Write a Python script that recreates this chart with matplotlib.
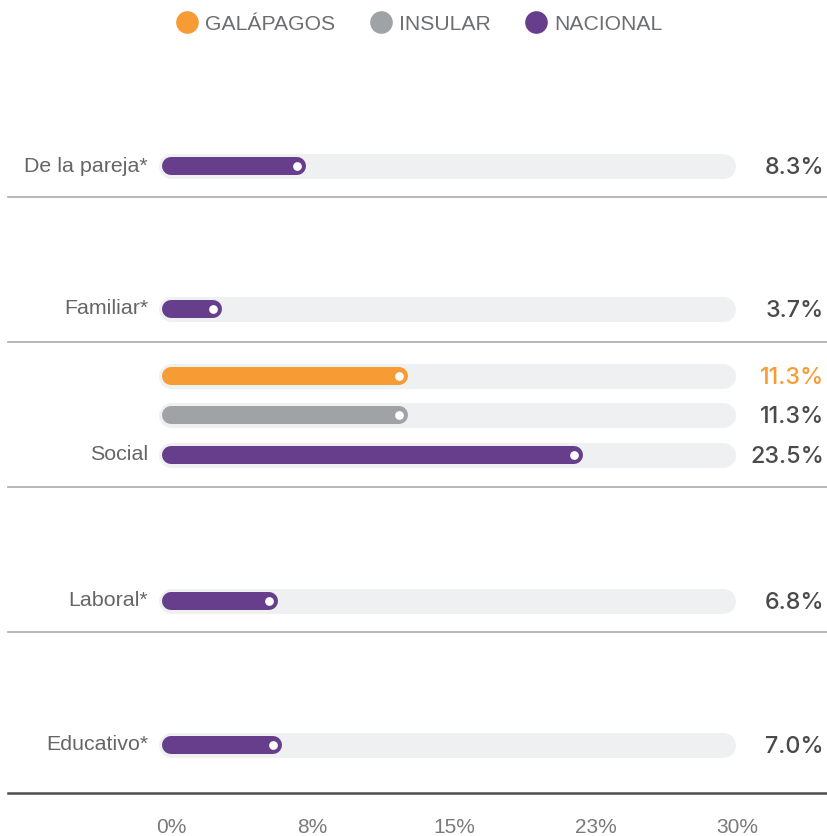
import numpy as np
import matplotlib
matplotlib.use("Agg")
from matplotlib import pyplot as plt
from matplotlib.lines import Line2D

# Data
categories = ["De la pareja*", "Familiar*", "Social", "Laboral*", "Educativo*"]
nacional = [8.3, 3.7, 23.5, 6.8, 7.0]

# extra series only shown for "Social"
extra_names = ["GALÁPAGOS", "INSULAR"]
extra_values = [11.3, 11.3]
extra_bar_len = [13.9, 13.9]  # length the bars are drawn with in the original

tick_vals = [0, 7.5, 15, 22.5, 30]
tick_labels = ["0%", "8%", "15%", "23%", "30%"]

# Colors
ORANGE = "#F79C34"
GREY = "#A0A3A6"
PURPLE = "#663E8B"
TRACK = "#EFF0F2"
TXT = "#666666"
VAL = "#4A4A4C"

# Layout (pixels, figure is 827x836 @ 100 dpi)
W, H = 827, 836
PX0, PXK = 145.3, 18.23          # bar scale: px = PX0 + PXK * value
row_y = [166, 309, 455, 601, 745]
extra_y = [376, 415]
sep_y = [197, 342, 487, 632]
BOTTOM_Y = 793

BAR_START = 1.42
TRACK_END = 31.69
TRACK_LW = 25 * 0.72
BAR_LW = 18 * 0.72


def px2x(px):
    return (px - PX0) / PXK


fig = plt.figure(figsize=(W / 100, H / 100), dpi=100)
fig.patch.set_facecolor("white")
ax = fig.add_axes([0, 0, 1, 1])
ax.set_xlim(px2x(0), px2x(W))
ax.set_ylim(H, 0)
ax.axis("off")


def draw_bar(y, val, color, label, label_color):
    ax.plot([BAR_START, TRACK_END], [y, y], color=TRACK, lw=TRACK_LW,
            solid_capstyle="round", zorder=1)
    ax.plot([BAR_START, val], [y, y], color=color, lw=BAR_LW,
            solid_capstyle="round", zorder=2)
    ax.plot([val], [y], marker="o", ms=6.3, color="white", mec="none", zorder=3)
    ax.text(px2x(824), y + 2, label, ha="right", va="center", fontsize=16.8,
            family=["Inter", "DejaVu Sans"], weight="medium", color=label_color)


# National bars + category labels
for cat, v, y in zip(categories, nacional, row_y):
    draw_bar(y, v, PURPLE, f"{v:.1f}%", VAL)
    ax.text(px2x(148), y, cat, ha="right", va="center", fontsize=15.4,
            family=["Liberation Sans", "DejaVu Sans"], color=TXT)

# Galápagos / Insular on the Social row
for name, v, ln, y, c in zip(extra_names, extra_values, extra_bar_len, extra_y, [ORANGE, GREY]):
    draw_bar(y, ln, c, f"{v:.1f}%", ORANGE if name == "GALÁPAGOS" else VAL)

# Separators
for y in sep_y:
    ax.axhline(y, xmin=8 / W, xmax=1, color="#B1B1B3", lw=1.3, zorder=0)
ax.axhline(BOTTOM_Y, xmin=8 / W, xmax=1, color="#4D4D4D", lw=1.8, zorder=0)

# Tick axis
ax2 = fig.add_axes([171 / W, 18 / H, 566 / W, 0.001])
ax2.set_xlim(0, 30)
ax2.set_xticks(tick_vals)
ax2.set_xticklabels(tick_labels, fontsize=15, color="#7A7A7C",
                    family=["Liberation Sans Narrow", "Liberation Sans"])
ax2.tick_params(length=0, pad=0)
ax2.set_yticks([])
for s in ax2.spines.values():
    s.set_visible(False)
ax2.patch.set_alpha(0)

# Legend
handles = [Line2D([], [], ls="none", marker="o", ms=16.3, color=c, mec="none")
           for c in [ORANGE, GREY, PURPLE]]
leg = fig.legend(handles, ["GALÁPAGOS", "INSULAR", "NACIONAL"], loc="center",
                 bbox_to_anchor=(419 / W, 1 - 24 / H), ncol=3, frameon=False,
                 handlelength=1.1, handletextpad=0.3, columnspacing=1.6,
                 prop={"family": "Liberation Sans", "size": 15.2})
for t in leg.get_texts():
    t.set_color("#6D6E71")

plt.savefig("out.png", dpi=100)
